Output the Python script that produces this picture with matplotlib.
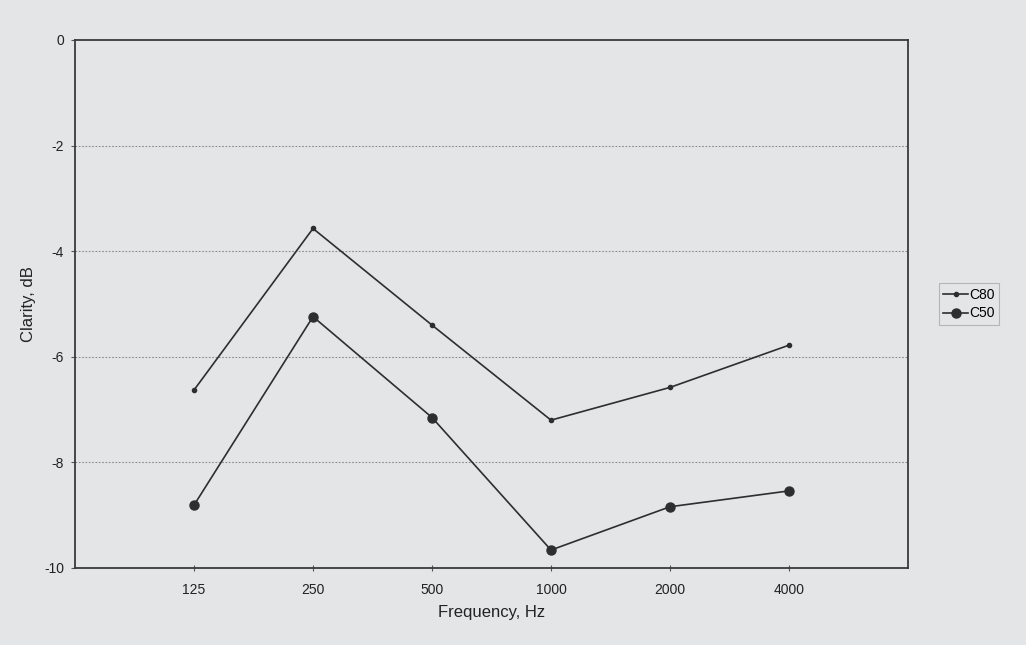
import matplotlib
matplotlib.use("Agg")
import matplotlib.pyplot as plt

# data
frequencies = ["125", "250", "500", "1000", "2000", "4000"]
c80 = [-6.63, -3.57, -5.40, -7.20, -6.58, -5.78]
c50 = [-8.81, -5.24, -7.15, -9.66, -8.84, -8.54]
y_ticks = [0, -2, -4, -6, -8, -10]

plt.rcParams['font.family'] = ['Liberation Sans', 'DejaVu Sans']

bg = '#e4e5e7'
line_col = '#2e2e2e'

fig = plt.figure(figsize=(10.26, 6.45), dpi=100, facecolor=bg)
ax = fig.add_axes([0.0731, 0.1194, 0.8119, 0.8186], facecolor=bg)

x = range(len(frequencies))
ax.plot(x, c80, color=line_col, lw=1.2, marker='o', ms=3, label='C80')
ax.plot(x, c50, color=line_col, lw=1.2, marker='o', ms=6.5, label='C50')

ax.set_xlim(-1, 6)
ax.set_ylim(-10, 0)
ax.set_xticks(list(x))
ax.set_xticklabels(frequencies)
ax.set_yticks(y_ticks)
ax.set_yticklabels([str(v) for v in y_ticks])

# dotted horizontal gridlines
for v in [-2, -4, -6, -8]:
    ax.axhline(v, color='#8a8a8a', lw=0.8, ls=(0, (1.5, 1.5)), zorder=0)

for s in ax.spines.values():
    s.set_color('#3a3a3a')
    s.set_linewidth(1.3)

ax.tick_params(axis='x', direction='inout', length=5, width=0.8, colors='#555555',
               labelcolor='#222222', labelsize=10, pad=8)
ax.tick_params(axis='y', direction='out', length=3, width=0.8, colors='#555555',
               labelcolor='#222222', labelsize=10, pad=5)

ax.set_xlabel('Frequency, Hz', fontsize=12, color='#222222', labelpad=6)
ax.set_ylabel('Clarity, dB', fontsize=12, color='#222222')
ax.yaxis.set_label_coords(-0.047, 0.5)

leg = ax.legend(loc='center left', bbox_to_anchor=(1.029, 0.5), fontsize=10,
                handlelength=1.8, handletextpad=0.05, borderpad=0.3,
                labelspacing=0.35, fancybox=False, framealpha=1)
leg.get_frame().set_facecolor(bg)
leg.get_frame().set_edgecolor('#b5b5b5')
leg.get_frame().set_linewidth(0.8)

fig.savefig('out.png', dpi=100, facecolor=bg)
